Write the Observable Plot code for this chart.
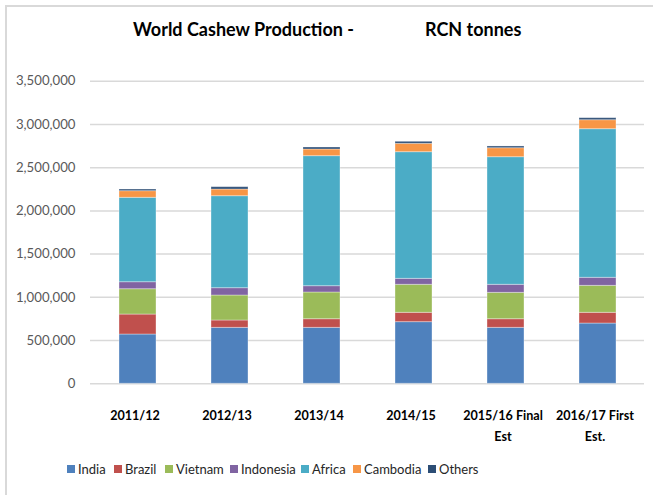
<!DOCTYPE html>
<html>
<head>
<meta charset="utf-8">
<script src="https://cdn.jsdelivr.net/npm/d3@7"></script>
<script src="https://cdn.jsdelivr.net/npm/@observablehq/plot@0.6"></script>
<style>
  body { margin: 0; background: #fff; }
  #wrap { position: relative; width: 653px; height: 495px; overflow: hidden; background: #fff;
          font-family: Lato, "Liberation Sans", sans-serif; }
  #frame { position: absolute; left: 5px; top: 5px; width: 700px; height: 600px;
           border-left: 2px solid #d9d9d9; border-top: 2px solid #d9d9d9; }
  .title { position: absolute; top: 20px; font-size: 18px; line-height: 18px; font-weight: bold; color: #000; white-space: pre; }
  #chart { position: absolute; left: 0; top: 0; }
  .item { position: absolute; top: 461px; height: 16px; display: flex; align-items: center;
          font-size: 13px; color: #262626; white-space: nowrap; }
  .sw { width: 8px; height: 8px; margin-right: 3px; }
</style>
</head>
<body>
<div id="wrap">
  <div id="frame"></div>
  <div id="chart"></div>
  <div class="title" style="left:133px">World Cashew Production -</div>
  <div class="title" style="left:425px">RCN tonnes</div>
  <div id="legend"></div>
</div>
<script>
const years = ["2011/12", "2012/13", "2013/14", "2014/15", "2015/16 Final Est", "2016/17 First Est."];
const yearLabels = ["2011/12", "2012/13", "2013/14", "2014/15", "2015/16 Final\nEst", "2016/17 First\nEst."];
const countries = ["India", "Brazil", "Vietnam", "Indonesia", "Africa", "Cambodia", "Others"];
const colors = ["#4f81bd", "#c0504d", "#9bbb59", "#8064a2", "#4bacc6", "#f79646", "#2c4d75"];

const india     = [570000, 647000, 647000, 713000, 647000, 697000];
const brazil    = [231000,  85000, 100000, 108000, 100000, 124000];
const vietnam   = [293000, 289000, 309000, 324000, 305000, 312000];
const indonesia = [ 81000,  85000,  73000,  69000,  93000,  93000];
const africa    = [976000, 1064000, 1504000, 1465000, 1476000, 1719000];
const cambodia  = [ 77000,  77000,  77000,  97000, 104000, 104000];
const others    = [ 19000,  27000,  23000,  23000,  20000,  23000];

const yTicks = [0, 500000, 1000000, 1500000, 2000000, 2500000, 3000000, 3500000];

const seriesValues = [india, brazil, vietnam, indonesia, africa, cambodia, others];
const data = countries.flatMap((c, k) => years.map((y, i) => ({year: y, country: c, value: seriesValues[k][i]})));

const chart = Plot.plot({
  width: 653,
  height: 445,
  marginTop: 80.7,
  marginBottom: 61.7,
  marginLeft: 90,
  marginRight: 9,
  style: {fontFamily: 'Lato, "Liberation Sans", sans-serif', background: "transparent", overflow: "visible"},
  x: {domain: years, paddingInner: 0.6, paddingOuter: 0.3, label: null},
  y: {domain: [0, 3500000], label: null},
  color: {domain: countries, range: colors},
  marks: [
    Plot.ruleY(yTicks, {stroke: "#d9d9d9", strokeWidth: 1.5}),
    Plot.barY(data, Plot.stackY({x: "year", y: "value", fill: "country", order: countries,
      stroke: "#ffffff", strokeOpacity: 0.35, strokeWidth: 1})),
    Plot.axisY({ticks: yTicks, tickFormat: d3.format(","), tickSize: 0, tickPadding: 15,
      fontSize: 13.2, fill: "#595959"}),
    Plot.axisX({tickFormat: d => yearLabels[years.indexOf(d)], tickSize: 0, tickPadding: 21,
      fontSize: 12.6, fontWeight: "bold", fill: "#000", lineHeight: 1.7, dx: -3})
  ]
});
document.getElementById("chart").appendChild(chart);

// legend swatch left edges, in page pixels
const legendX = [67, 114, 165, 230, 301, 353, 428];
const legend = document.getElementById("legend");
countries.forEach((c, k) => {
  const item = document.createElement("div");
  item.className = "item";
  item.style.left = legendX[k] + "px";
  const sw = document.createElement("div");
  sw.className = "sw";
  sw.style.background = colors[k];
  const label = document.createElement("span");
  label.textContent = c;
  item.appendChild(sw);
  item.appendChild(label);
  legend.appendChild(item);
});
</script>
</body>
</html>
